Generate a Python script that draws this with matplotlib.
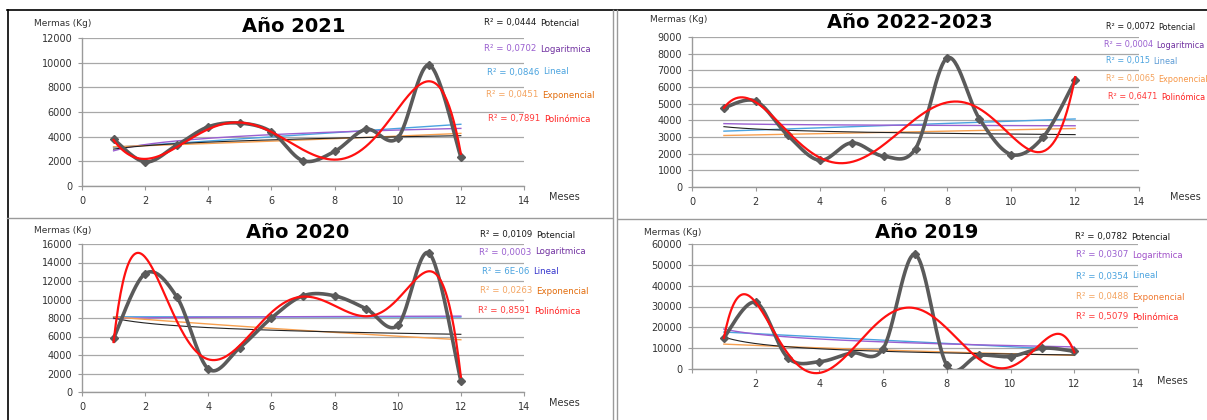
import numpy as np
import matplotlib
matplotlib.use("Agg")
import matplotlib.pyplot as plt
from matplotlib.lines import Line2D
from matplotlib.text import Annotation

# ---------------- data ----------------
months = [1, 2, 3, 4, 5, 6, 7, 8, 9, 10, 11, 12]
mermas_2021 = [3800, 1950, 3300, 4800, 5100, 4400, 2050, 2800, 4600, 3900, 9800, 2350]
mermas_2022_2023 = [4750, 5150, 3100, 1600, 2650, 1850, 2300, 7750, 4100, 1950, 3000, 6400]
mermas_2020 = [5800, 12800, 10300, 2500, 4800, 8000, 10400, 10400, 9000, 7200, 15000, 1200]
mermas_2019 = [15000, 32000, 5500, 3500, 7700, 9800, 55000, 1800, 6500, 6000, 10000, 8500]

titles = ["Año 2021", "Año 2022-2023", "Año 2020", "Año 2019"]
trend_names = ["Potencial", "Logaritmica", "Lineal", "Exponencial", "Polinómica"]
r2_2021 = ["0,0444", "0,0702", "0,0846", "0,0451", "0,7891"]
r2_2022_2023 = ["0,0072", "0,0004", "0,015", "0,0065", "0,6471"]
r2_2020 = ["0,0109", "0,0003", "6E-06", "0,0263", "0,8591"]
r2_2019 = ["0,0782", "0,0307", "0,0354", "0,0488", "0,5079"]
y_max = [12000, 9000, 16000, 60000]
y_step = [2000, 1000, 2000, 10000]
x_ticks = [0, 2, 4, 6, 8, 10, 12, 14]

W, H = 1207, 420
fig = plt.figure(figsize=(W / 100, H / 100), dpi=100)
fig.patch.set_facecolor("white")


def fx(x):
    return x / W


def fy(y):
    return 1 - y / H


def hline(x0, x1, y, color, lw=1.0):
    fig.add_artist(Line2D([fx(x0), fx(x1)], [fy(y), fy(y)], color=color, lw=lw,
                          transform=fig.transFigure))


def vline(x, y0, y1, color, lw=1.0):
    fig.add_artist(Line2D([fx(x), fx(x)], [fy(y0), fy(y1)], color=color, lw=lw,
                          transform=fig.transFigure))


# page frame (spreadsheet screenshot look)
hline(7, 1207, 10, "black", 1.2)
vline(7.5, 10, 420, "black", 1.2)
hline(7, 612, 218, "#9a9a9a", 1.0)
hline(618, 1207, 219, "#9a9a9a", 1.0)
vline(613, 10, 420, "#9a9a9a", 1.0)
vline(617, 10, 420, "#9a9a9a", 1.0)


def catmull_rom(xs, ys, n=30):
    xs = np.asarray(xs, float)
    ys = np.asarray(ys, float)
    P = np.column_stack([xs, ys])
    P = np.vstack([P[0], P, P[-1]])
    out = []
    t = np.linspace(0, 1, n, endpoint=False)
    for i in range(1, len(P) - 2):
        p0, p1, p2, p3 = P[i - 1], P[i], P[i + 1], P[i + 2]
        t2, t3 = t * t, t * t * t
        seg = 0.5 * ((2 * p1)[None, :] + (-p0 + p2)[None, :] * t[:, None]
                     + (2 * p0 - 5 * p1 + 4 * p2 - p3)[None, :] * t2[:, None]
                     + (-p0 + 3 * p1 - 3 * p2 + p3)[None, :] * t3[:, None])
        out.append(seg)
    out.append(P[-2][None, :])
    out = np.vstack(out)
    return out[:, 0], out[:, 1]


# panel geometry in pixels: (x_left, x_right, y_top, y_bottom)
panels = [
    dict(box=(82, 524, 38, 186), data=mermas_2021, r2=r2_2021,
         title=(294, 27), mermas=(34, 24), meses=(549, 197), labx=[484, 484, 487, 486, 488],
         laby=[23, 49, 72, 95, 119], zero_label=True, fs=6.2),
    dict(box=(692, 1139, 37, 187), data=mermas_2022_2023, r2=r2_2022_2023,
         title=(910, 23), mermas=(650, 19), meses=(1170, 197), labx=[1106, 1104, 1106, 1106, 1108],
         laby=[27, 45, 61, 79, 97], zero_label=True, fs=5.9),
    dict(box=(82, 524, 244, 392), data=mermas_2020, r2=r2_2020,
         title=(298, 233), mermas=(34, 230), meses=(549, 403), labx=[480, 479, 482, 480, 478],
         laby=[235, 252, 272, 291, 311], zero_label=True, fs=6.2),
    dict(box=(692, 1138, 244, 369), data=mermas_2019, r2=r2_2019,
         title=(927, 233), mermas=(644, 232), meses=(1157, 381), labx=[1075, 1076, 1076, 1076, 1076],
         laby=[237, 255, 276, 297, 317], zero_label=False, fs=6.2),
]

r2_colors = ["#1a1a1a", "#9a5fd0", "#4aa3df", "#f4a460", "#ff3b3b"]
name_colors_list = [
    ["#1a1a1a", "#7030a0", "#4aa3df", "#e26b0a", "#ff2020"],
    ["#1a1a1a", "#7030a0", "#5b9bd5", "#f79646", "#ff2020"],
    ["#1a1a1a", "#7030a0", "#3333cc", "#e26b0a", "#ff2020"],
    ["#1a1a1a", "#a050c8", "#4aa3df", "#f07830", "#ff2020"],
]

x = np.array(months, float)
xx = np.linspace(1, 12, 300)

for k, p in enumerate(panels):
    x0, x1, y0, y1 = p["box"]
    ax = fig.add_axes([fx(x0), fy(y1), (x1 - x0) / W, (y1 - y0) / H])
    y = np.array(p["data"], float)

    ax.set_xlim(0, 14)
    ax.set_ylim(0, y_max[k])
    ax.set_yticks(np.arange(0, y_max[k] + 1, y_step[k]))
    ax.set_xticks(x_ticks)
    if p["zero_label"]:
        ax.set_xticklabels([str(v) for v in x_ticks])
    else:
        ax.set_xticklabels([""] + [str(v) for v in x_ticks[1:]])
    ax.grid(axis="y", color="#a8a8a8", lw=0.9)
    ax.set_axisbelow(True)
    for s in ["top", "right"]:
        ax.spines[s].set_visible(False)
    for s in ["left", "bottom"]:
        ax.spines[s].set_color("#9a9a9a")
        ax.spines[s].set_linewidth(1.0)
    ax.tick_params(axis="both", colors="#9a9a9a", labelcolor="#333333", labelsize=7,
                   length=3, width=0.8)
    ax.tick_params(axis="x", pad=4)
    ax.tick_params(axis="y", pad=4)
    ax.set_facecolor("none")

    # data (smoothed line, like Excel)
    sx, sy = catmull_rom(x, y)
    ax.plot(sx, sy, color="#5a5a5a", lw=2.6, zorder=3, solid_capstyle="round")
    ax.plot(x, y, ls="none", marker="D", ms=4.5, color="#5a5a5a", zorder=4)

    # trend lines
    b_lin = np.polyfit(x, y, 1)
    ax.plot(xx, np.polyval(b_lin, xx), color="#4aa3df", lw=1.0, zorder=2)
    b_log = np.polyfit(np.log(x), y, 1)
    ax.plot(xx, np.polyval(b_log, np.log(xx)), color="#9a5fd0", lw=1.0, zorder=2)
    b_exp = np.polyfit(x, np.log(y), 1)
    ax.plot(xx, np.exp(np.polyval(b_exp, xx)), color="#f7a050", lw=1.0, zorder=2)
    b_pow = np.polyfit(np.log(x), np.log(y), 1)
    ax.plot(xx, np.exp(np.polyval(b_pow, np.log(xx))), color="#222222", lw=0.8, zorder=2)
    b_poly = np.polyfit(x, y, 6)
    py = np.polyval(b_poly, xx)
    py = np.maximum(py, -0.04 * y_max[k])
    ax.plot(xx, py, color="#ff1010", lw=1.6, zorder=5, clip_on=False)

    # texts
    fig.text(fx(p["title"][0]), fy(p["title"][1]), titles[k], ha="center", va="center",
             fontsize=14, fontweight="bold", color="black")
    fig.text(fx(p["mermas"][0]), fy(p["mermas"][1]), "Mermas (Kg)", ha="left", va="center",
             fontsize=6.5, color="#333333")
    fig.text(fx(p["meses"][0]), fy(p["meses"][1]), "Meses", ha="left", va="center",
             fontsize=7, color="#333333")
    ncol = name_colors_list[k]
    for j in range(5):
        t1 = fig.text(fx(p["labx"][j]), fy(p["laby"][j]), "R² = " + p["r2"][j],
                      ha="left", va="center", fontsize=p["fs"], color=r2_colors[j])
        fig.add_artist(Annotation(
            trend_names[j], xy=(1, 0.5), xycoords=t1, xytext=(2.5, 0),
            textcoords="offset points", ha="left", va="center", fontsize=p["fs"],
            color=ncol[j]))

fig.savefig("out.png", dpi=100)
